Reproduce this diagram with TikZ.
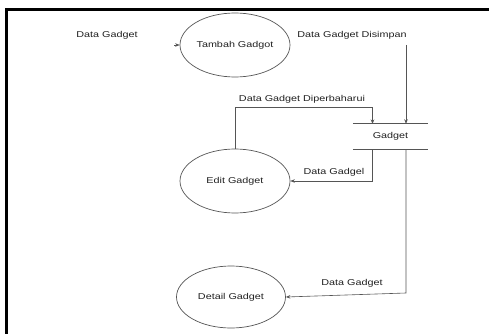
\documentclass[tikz,border=0pt]{standalone}
\usepackage{fontspec}
\setmainfont{Liberation Sans}[FakeStretch=1.27]
\usetikzlibrary{arrows.meta,shapes.geometric}
\definecolor{ln}{HTML}{555555}
\definecolor{tx}{HTML}{222222}
\tikzset{
  proc/.style={draw=ln, line width=0.7pt, ellipse, minimum width=110pt, minimum height=64pt, inner sep=0pt, text=tx, font=\fontsize{8.5}{10}\selectfont},
  lbl/.style={text=tx, font=\fontsize{8.5}{10}\selectfont, inner sep=0pt},
  flow/.style={draw=ln, line width=0.6pt, -{Stealth[length=4.5pt,width=3.5pt]}},
  storeline/.style={draw=ln, line width=0.8pt}
}
\begin{document}
\begin{tikzpicture}[x=1pt,y=-1pt]
\useasboundingbox (0,0) rectangle (489,334);
\fill[white] (0,0) rectangle (489,334);
% frame
\draw[black, line width=2.6pt] (5,9.5) -- (489,9.5);
\draw[black, line width=2.6pt] (6.3,8.2) -- (6.3,334);
% processes
\node[proc] (tambah) at (235,45) {Tambah Gadgot};
\node[proc] (edit) at (235,181) {Edit Gadget};
\node[proc, minimum width=109pt, minimum height=62pt] (detail) at (231,297) {Detail Gadget};
% store
\node[lbl, minimum width=75pt, minimum height=25pt] (store) at (390.5,136.5) {Gadget};
\draw[storeline] (store.north west) -- (store.north east);
\draw[storeline] (store.south west) -- (store.south east);
% labels
\node[lbl] (l1) at (107,35) {Data Gadget};
\node[lbl] (l2) at (352,35) {Data Gadget Disimpan};
\node[lbl] (l3) at (302,99) {Data Gadget Diperbaharui};
\node[lbl] (l4) at (334,172) {Data Gadgel};
\node[lbl] (l5) at (352,283) {Data Gadget};
% flows
\coordinate (in1) at (174,45);
\draw[flow] (in1) -- (tambah.west);
\coordinate (d1) at (406,45);
\draw[flow] (d1) -- (d1 |- store.north);
\coordinate (e1) at (235,107);
\draw[flow] (edit.north) -- (e1) -- (372.5,107) -- (372.5,124);
\draw[flow] (372.5,149) -- (372.5,181) -- (edit.east);
\draw[flow] (406,149) -- (406,293) -- (detail.east);
\end{tikzpicture}
\end{document}
